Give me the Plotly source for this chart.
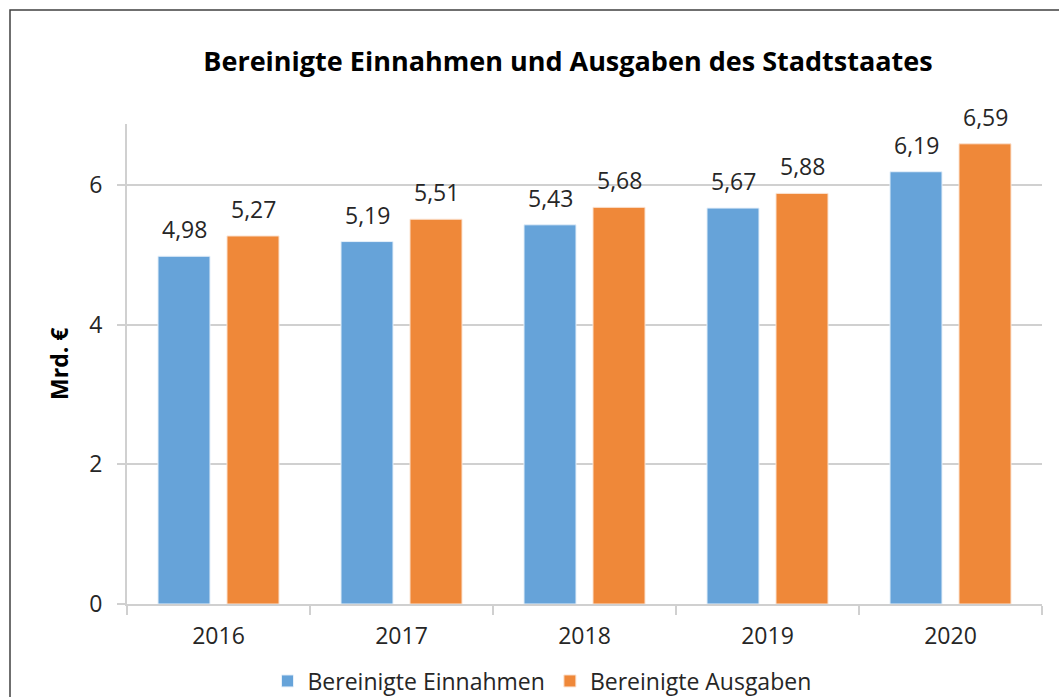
import plotly.graph_objects as go

years = ["2016", "2017", "2018", "2019", "2020"]
einnahmen = [4.98, 5.19, 5.43, 5.67, 6.19]
ausgaben = [5.27, 5.51, 5.68, 5.88, 6.59]
series_names = ["Bereinigte Einnahmen", "Bereinigte Ausgaben"]
y_ticks = [0, 2, 4, 6]

FONT = "Open Sans"
W, H = 1059, 697
L, R, T, B = 127, 17, 124, 93
pw, ph = W - L - R, H - T - B
colors = ["#66A3D9", "#EF8839"]
edges = ["#E6F0FA", "#FBE3D2"]
BAR_OFFSET_PX = 34.5

fig = go.Figure()
for name, vals, c, e in zip(series_names, [einnahmen, ausgaben], colors, edges):
    fig.add_trace(go.Bar(
        x=years, y=vals, name=name,
        marker=dict(color=c, line=dict(color=e, width=1)),
    ))

def px_x(px):
    return (px - L) / pw

def px_y(py):
    return (H - B - py) / ph

annotations = []
for sign, vals in zip([-1, 1], [einnahmen, ausgaben]):
    for i, v in enumerate(vals):
        annotations.append(dict(
            x=i, y=v, xref="x", yref="y", text=f"{v:.2f}".replace(".", ","),
            showarrow=False, xanchor="center", yanchor="middle",
            xshift=sign * BAR_OFFSET_PX, yshift=27,
            font=dict(family=FONT, size=23, color="#262626"),
        ))
annotations.append(dict(
    text="<b>Mrd. €</b>", textangle=-90, xref="paper", yref="paper",
    x=px_x(59), y=px_y(364), xanchor="center", yanchor="middle",
    showarrow=False, font=dict(family=FONT, size=23, color="#000000"),
))

fig.update_layout(
    width=W, height=H,
    margin=dict(l=L, r=R, t=T, b=B, autoexpand=False),
    paper_bgcolor="white", plot_bgcolor="white",
    separators=",.",
    barmode="group", bargap=0.246, bargroupgap=0.246,
    font=dict(family=FONT, color="#262626"),
    title=dict(
        text="<b>Bereinigte Einnahmen und Ausgaben des Stadtstaates</b>",
        x=568 / W, xanchor="center", y=1 - 62 / H, yanchor="middle",
        font=dict(family=FONT, size=27, color="#000000"),
    ),
    showlegend=True,
    legend=dict(
        orientation="h", x=px_x(542), xanchor="center",
        y=px_y(681), yanchor="middle",
        font=dict(family=FONT, size=23, color="#262626"),
        itemwidth=30, traceorder="normal",
    ),
    shapes=[dict(
        type="rect", xref="paper", yref="paper",
        x0=px_x(10), x1=px_x(W + 20), y0=px_y(H + 20), y1=px_y(10),
        line=dict(color="#404040", width=1.5), fillcolor="rgba(0,0,0,0)",
        layer="below",
    )],
    annotations=annotations,
)

fig.update_xaxes(
    type="category", tickson="boundaries", range=[-0.5, len(years) - 0.5],
    showline=True, linecolor="#D0D0D0", linewidth=2,
    ticks="outside", ticklen=9, tickcolor="#D0D0D0", tickwidth=2,
    tickfont=dict(family=FONT, size=23, color="#262626"),
    ticklabelstandoff=10, tickangle=0,
    showgrid=False,
)
fig.update_yaxes(
    range=[0, (H - B - T) / ((604 - 185) / 6)],
    tickvals=y_ticks, ticktext=[str(v) for v in y_ticks],
    showline=True, linecolor="#D0D0D0", linewidth=2,
    ticks="outside", ticklen=8, tickcolor="#D0D0D0", tickwidth=2,
    showgrid=True, gridcolor="#D0D0D0", gridwidth=2,
    zeroline=False,
    tickfont=dict(family=FONT, size=23, color="#262626"),
    ticklabelstandoff=10,
)

fig.write_html("out.html", config={"displayModeBar": False},
               post_script="document.body.style.margin='0';")
